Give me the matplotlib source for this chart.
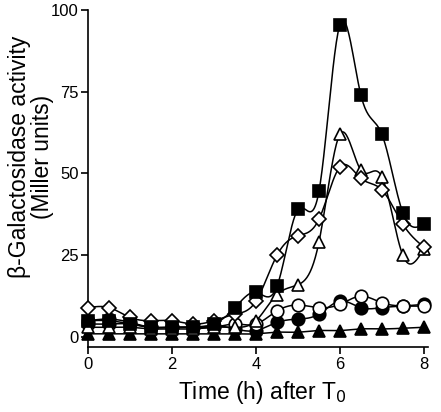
import numpy as np
import matplotlib
matplotlib.use("Agg")
import matplotlib.pyplot as plt

plt.rcParams['font.family'] = ['Liberation Sans', 'DejaVu Sans']

time_h = [0, 0.5, 1, 1.5, 2, 2.5, 3, 3.5, 4, 4.5, 5, 5.5, 6, 6.5, 7, 7.5, 8]
filled_squares = [5, 5, 4, 3, 3, 3, 4, 9, 13.7, 15.5, 39, 44.5, 95.5, 74, 62, 38, 34.5]
open_triangles = [3, 3, 3, 2.5, 2.5, 2.5, 3, 3, 5, 13, 16, 29, 62, 51, 49, 25, 27]
open_diamonds = [9, 9, 6, 5, 5, 4, 5, 7, 11, 25, 31, 36, 52, 48.5, 45, 34.5, 27.5]
open_circles = [4, 4, 4, 3, 3, 3, 3, 4, 4, 8, 9.8, 9, 10, 12.5, 10.5, 9.5, 9.5]
filled_circles = [5, 5.5, 4.5, 3, 3, 3, 3.5, 2.5, 2, 4.5, 5.5, 7, 11, 9, 9, 9.5, 10]
filled_triangles = [1, 1, 1, 1, 1, 1, 1, 1, 1, 1.5, 1.5, 2, 2, 2.5, 2.5, 2.7, 3]

x_ticks = [0, 2, 4, 6, 8]
y_ticks = [0, 25, 50, 75, 100]


def natural_spline(x, y, n=400):
    x = np.asarray(x, float)
    y = np.asarray(y, float)
    k = len(x)
    h = np.diff(x)
    A = np.zeros((k, k))
    b = np.zeros(k)
    A[0, 0] = A[-1, -1] = 1
    for i in range(1, k - 1):
        A[i, i - 1] = h[i - 1]
        A[i, i] = 2 * (h[i - 1] + h[i])
        A[i, i + 1] = h[i]
        b[i] = 6 * ((y[i + 1] - y[i]) / h[i] - (y[i] - y[i - 1]) / h[i - 1])
    M = np.linalg.solve(A, b)
    xs = np.linspace(x[0], x[-1], n)
    idx = np.clip(np.searchsorted(x, xs) - 1, 0, k - 2)
    x0, x1 = x[idx], x[idx + 1]
    hh = x1 - x0
    t1 = x1 - xs
    t0 = xs - x0
    ys = (M[idx] * t1 ** 3 + M[idx + 1] * t0 ** 3) / (6 * hh) \
        + (y[idx] / hh - M[idx] * hh / 6) * t1 \
        + (y[idx + 1] / hh - M[idx + 1] * hh / 6) * t0
    return xs, ys


fig = plt.figure(figsize=(4.41, 4.12), dpi=100)
ax = fig.add_axes([0.2, 0.158, 0.761, 0.818])

series = [
    (filled_triangles, '^', 'black'),
    (filled_circles, 'o', 'black'),
    (open_circles, 'o', 'white'),
    (open_triangles, '^', 'white'),
    (open_diamonds, 'D', 'white'),
    (filled_squares, 's', 'black'),
]
ms = {'^': 9, 'o': 9, 'D': 7, 's': 8.5}
for z, (ys, mk, fc) in enumerate(series):
    sx, sy = natural_spline(time_h, ys)
    ax.plot(sx, sy, color='black', lw=1.1, zorder=2 + z * 2, clip_on=False)
    ax.plot(time_h, ys, linestyle='none', marker=mk, markersize=ms[mk],
            markerfacecolor=fc, markeredgecolor='black', markeredgewidth=1.2,
            zorder=3 + z * 2, clip_on=False)

ax.set_xlim(0, 8)
ax.set_ylim(-3, 100)
ax.set_xticks(x_ticks)
ax.set_yticks(y_ticks)
ax.spines['top'].set_visible(False)
ax.spines['right'].set_visible(False)
ax.spines['left'].set_linewidth(1.2)
ax.spines['bottom'].set_linewidth(1.2)
ax.spines['bottom'].set_bounds(0, 8.1)
ax.tick_params(direction='out', length=5, width=1.2, labelsize=12, pad=2)
ax.set_xlabel('Time (h) after T$_0$', fontsize=16.5)
ax.xaxis.set_label_coords(0.52, -0.135, transform=ax.transAxes)
ax.xaxis.label.set_verticalalignment('center')
ax.set_ylabel('β-Galactosidase activity\n(Miller units)', fontsize=16.5,
              linespacing=1.0)
ax.yaxis.set_label_coords(-0.17, 0.564, transform=ax.transAxes)
ax.yaxis.label.set_verticalalignment('center')

fig.savefig('out.png', dpi=100)
